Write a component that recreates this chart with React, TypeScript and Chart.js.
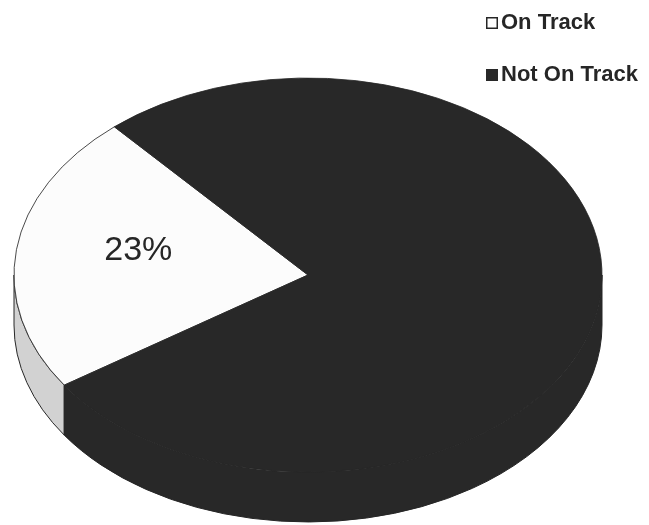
import React, { useEffect, useRef } from 'react';
import { Chart, ArcElement, PieController } from 'chart.js';

Chart.register(ArcElement, PieController);

const categories = ['On Track', 'Not On Track'];
const shares = [23, 77];
const sliceColors = ['#fcfcfc', '#282828'];
const sideColors = ['#d2d2d2', '#282828'];
const showValueLabel = [true, false];
const legendBoxFilled = [false, true];

const TILT = 0.67;
const DEPTH = 50;
const INK = '#262626';
const FONT = "'Liberation Sans', Arial, Helvetica, sans-serif";

function frontRanges(a: number, b: number): [number, number][] {
  const out: [number, number][] = [];
  const TAU = Math.PI * 2;
  for (let k = -2; k <= 3; k++) {
    const lo = k * TAU;
    const hi = lo + Math.PI;
    const s = Math.max(a, lo);
    const e = Math.min(b, hi);
    if (e > s) out.push([s, e]);
  }
  return out;
}

const pie3d = {
  id: 'pie3d',
  beforeDatasetsDraw(chart: any) {
    const meta = chart.getDatasetMeta(0);
    const arcs = meta.data;
    const ctx = chart.ctx;
    if (!arcs.length) return;
    const cx = arcs[0].x;
    const cy = arcs[0].y;
    const R = arcs[0].outerRadius;
    ctx.save();
    arcs.forEach((arc: any, i: number) => {
      for (const [s, e] of frontRanges(arc.startAngle, arc.endAngle)) {
        ctx.beginPath();
        ctx.ellipse(cx, cy, R, R * TILT, 0, s, e, false);
        ctx.ellipse(cx, cy + DEPTH, R, R * TILT, 0, e, s, true);
        ctx.closePath();
        ctx.fillStyle = sideColors[i];
        ctx.fill();
        ctx.strokeStyle = INK;
        ctx.lineWidth = 1;
        ctx.stroke();
      }
    });
    ctx.restore();
    ctx.save();
    ctx.translate(0, cy);
    ctx.scale(1, TILT);
    ctx.translate(0, -cy);
  },
  afterDatasetsDraw(chart: any) {
    const ctx = chart.ctx;
    ctx.restore();
    const meta = chart.getDatasetMeta(0);
    meta.data.forEach((arc: any, i: number) => {
      if (!showValueLabel[i]) return;
      const mid = (arc.startAngle + arc.endAngle) / 2 + 0.08;
      const r = arc.outerRadius * 0.59;
      const x = arc.x + r * Math.cos(mid);
      const y = arc.y + r * Math.sin(mid) * TILT;
      ctx.save();
      ctx.fillStyle = INK;
      ctx.font = `34px ${FONT}`;
      ctx.textAlign = 'center';
      ctx.textBaseline = 'middle';
      ctx.fillText(`${shares[i]}%`, x, y);
      ctx.restore();
    });
  },
  afterDraw(chart: any) {
    const ctx = chart.ctx;
    ctx.save();
    ctx.font = `bold 22px ${FONT}`;
    ctx.textBaseline = 'alphabetic';
    ctx.textAlign = 'left';
    categories.forEach((label, i) => {
      const base = 29 + i * 52;
      const bx = 486;
      const size = 12;
      const by = base - 12;
      if (legendBoxFilled[i]) {
        ctx.fillStyle = sliceColors[i];
        ctx.fillRect(bx, by, size, size);
      } else {
        ctx.fillStyle = '#ffffff';
        ctx.fillRect(bx, by, size, size);
        ctx.strokeStyle = INK;
        ctx.lineWidth = 1.5;
        ctx.strokeRect(bx + 0.75, by + 0.75, size - 1.5, size - 1.5);
      }
      ctx.fillStyle = INK;
      ctx.fillText(label, bx + 15, base);
    });
    ctx.restore();
  },
};

export default function App() {
  const ref = useRef<HTMLCanvasElement | null>(null);
  useEffect(() => {
    if (!ref.current) return;
    const chart = new Chart(ref.current, {
      type: 'pie',
      data: {
        labels: categories,
        datasets: [
          {
            data: shares,
            backgroundColor: sliceColors,
            borderColor: INK,
            borderWidth: 1,
            radius: 294,
            clip: false,
          } as any,
        ],
      },
      options: {
        animation: false,
        responsive: false,
        events: [],
        rotation: 236,
        layout: { padding: { left: 0, right: 33, top: 25, bottom: 0 } },
        plugins: {
          legend: { display: false },
          tooltip: { enabled: false },
        } as any,
      },
      plugins: [pie3d],
    });
    return () => chart.destroy();
  }, []);
  return (
    <div style={{ position: 'absolute', left: 0, top: 0, width: 649, height: 525, background: '#fff' }}>
      <canvas ref={ref} width={649} height={525} style={{ display: 'block' }} />
    </div>
  );
}
